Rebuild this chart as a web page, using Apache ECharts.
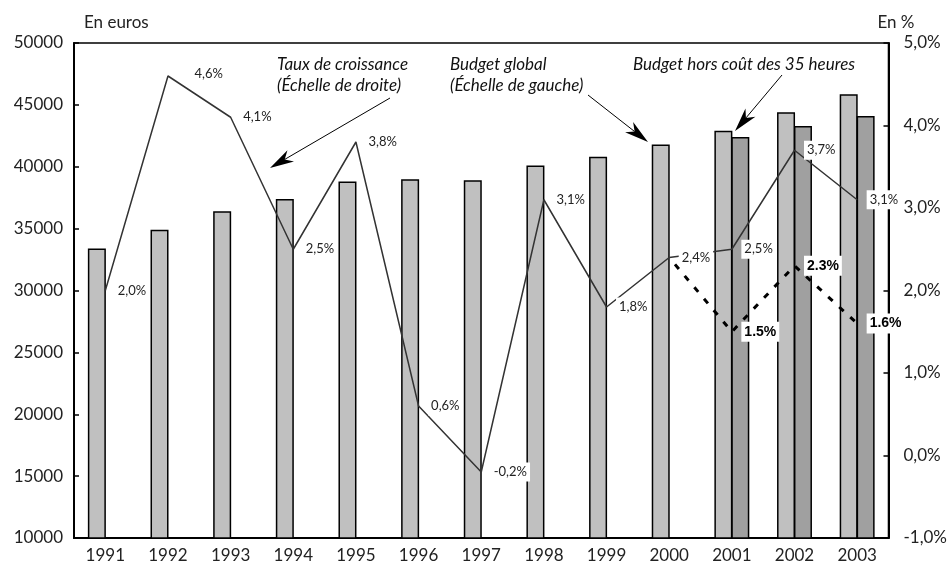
<!DOCTYPE html>
<html><head><meta charset="utf-8">
<script src="https://cdn.jsdelivr.net/npm/echarts@6/dist/echarts.min.js"></script>
<style>html,body{margin:0;padding:0;background:#fff}#c{width:950px;height:572px}</style>
</head><body><div id="c"></div>
<script>
const years = ['1991','1992','1993','1994','1995','1996','1997','1998','1999','2000','2001','2002','2003'];
const budgetGlobal = [33400, 34900, 36400, 37400, 38800, 39000, 38900, 40100, 40800, 41800, 42900, 44400, 45850];
const budgetHors35h = [null, null, null, null, null, null, null, null, null, null, 42400, 43300, 44100];
const tauxCroissance = [2.0, 4.6, 4.1, 2.5, 3.8, 0.6, -0.2, 3.1, 1.8, 2.4, 2.5, 3.7, 3.1];
const tauxHors35h = [null, null, null, null, null, null, null, null, null, 2.4, 1.5, 2.3, 1.6];

const FONT = 'Lato, "DejaVu Sans", sans-serif';
const chart = echarts.init(document.getElementById('c'), null, {renderer: 'canvas'});

function comma(v){ return v.toFixed(1).replace('.', ',') + '%'; }

function arrow(x1, y1, x2, y2) {
  const dx = x2 - x1, dy = y2 - y1, L = Math.sqrt(dx*dx + dy*dy);
  const ux = dx / L, uy = dy / L, px = -uy, py = ux;
  const hl = 24, hw = 6.5, notch = 17;
  const bx = x2 - ux*hl, by = y2 - uy*hl;
  const nx = x2 - ux*notch, ny = y2 - uy*notch;
  return [
    {type: 'line', shape: {x1: x1, y1: y1, x2: nx, y2: ny}, style: {stroke: '#000', lineWidth: 1}, z: 100},
    {type: 'polygon', shape: {points: [[x2, y2], [bx + px*hw, by + py*hw], [nx, ny], [bx - px*hw, by - py*hw]]}, style: {fill: '#000'}, z: 100}
  ];
}

const annoStyle = {fontFamily: FONT, fontStyle: 'italic', fontSize: 17, fill: '#111'};

chart.setOption({
  animation: false,
  backgroundColor: '#fff',
  grid: {left: 74, right: 61, top: 43, bottom: 34, show: true, borderColor: '#000', borderWidth: 1.5, backgroundColor: 'transparent'},
  xAxis: {
    type: 'category', data: years, boundaryGap: true,
    axisLine: {onZero: false, lineStyle: {color: '#000', width: 2}},
    axisTick: {inside: true, length: 5, lineStyle: {color: '#000', width: 1.5}},
    axisLabel: {fontFamily: FONT, fontSize: 17, color: '#222', margin: 9}
  },
  yAxis: [
    {type: 'value', min: 10000, max: 50000, interval: 5000, position: 'left',
     name: 'En euros', nameLocation: 'end', nameGap: 12, nameTextStyle: {fontFamily: FONT, fontSize: 17, color: '#222', align: 'left', padding: [0,0,0,10]},
     axisLine: {show: true, lineStyle: {color: '#000', width: 2}},
     axisTick: {show: true, inside: true, length: 5, lineStyle: {color: '#000', width: 1.5}},
     axisLabel: {fontFamily: FONT, fontSize: 17, color: '#222', margin: 11, formatter: v => String(v)},
     splitLine: {show: false}},
    {type: 'value', min: -1, max: 5, interval: 1, position: 'right',
     name: 'En %', nameLocation: 'end', nameGap: 12, nameTextStyle: {fontFamily: FONT, fontSize: 17, color: '#222', align: 'right', padding: [0,-26,0,0]},
     axisLine: {show: true, lineStyle: {color: '#000', width: 2}},
     axisTick: {show: true, inside: true, length: 5, lineStyle: {color: '#000', width: 1.5}},
     axisLabel: {fontFamily: FONT, fontSize: 17, color: '#222', margin: 15, formatter: v => comma(v)},
     splitLine: {show: false}}
  ],
  series: [
    {type: 'bar', name: 'Budget global', data: budgetGlobal, barWidth: 18, barGap: '-6%',
     itemStyle: {color: '#c0c0c0', borderColor: '#000', borderWidth: 1.5}, z: 2},
    {type: 'bar', name: 'Budget hors coût des 35 heures', data: budgetHors35h, barWidth: 18, barGap: '-6%',
     itemStyle: {color: '#a0a0a0', borderColor: '#000', borderWidth: 1.5}, z: 2},
    {type: 'line', name: 'Taux de croissance', yAxisIndex: 1,
     data: tauxCroissance.map((v, i) => (i === 1 ? {value: v, label: {offset: [14, -2]}} : v)),
     symbol: 'circle', symbolSize: 1, showSymbol: true, showAllSymbol: true,
     itemStyle: {color: 'rgba(0,0,0,0)'},
     lineStyle: {color: '#333', width: 1.5}, z: 5,
     label: {show: true, position: 'right', distance: 9, formatter: p => comma(p.value),
             fontFamily: FONT, fontSize: 13, color: '#222', backgroundColor: '#fff', padding: [3, 3]}},
    {type: 'line', name: 'Hors 35 heures', yAxisIndex: 1,
     symbol: 'circle', symbolSize: 1, showSymbol: true, showAllSymbol: true,
     itemStyle: {color: 'rgba(0,0,0,0)'},
     data: tauxHors35h.map((v, i) => (v === null ? null : (i === 9 ? {value: v, label: {show: false}} : v))),
     lineStyle: {color: '#000', width: 3, type: [6, 9], dashOffset: 6}, z: 6,
     label: {show: true, position: 'right', distance: 9, formatter: p => p.value.toFixed(1) + '%',
             fontFamily: '"Liberation Sans", Arial, sans-serif', fontWeight: 'bold', fontSize: 14, color: '#000', backgroundColor: '#fff', padding: [3, 3]}}
  ],
  graphic: [
    {type: 'text', left: 277, top: 56, style: Object.assign({text: 'Taux de croissance'}, annoStyle), z: 100},
    {type: 'text', left: 277, top: 77, style: Object.assign({text: '(Échelle de droite)'}, annoStyle), z: 100},
    {type: 'text', left: 450, top: 56, style: Object.assign({text: 'Budget global'}, annoStyle), z: 100},
    {type: 'text', left: 450, top: 77, style: Object.assign({text: '(Échelle de gauche)'}, annoStyle), z: 100},
    {type: 'text', left: 633, top: 56, style: Object.assign({text: 'Budget hors coût des 35 heures'}, annoStyle), z: 100},
    ...arrow(390, 98, 270, 168),
    ...arrow(588, 95, 648, 142),
    ...arrow(782, 75, 735, 131)
  ]
});
</script></body></html>
